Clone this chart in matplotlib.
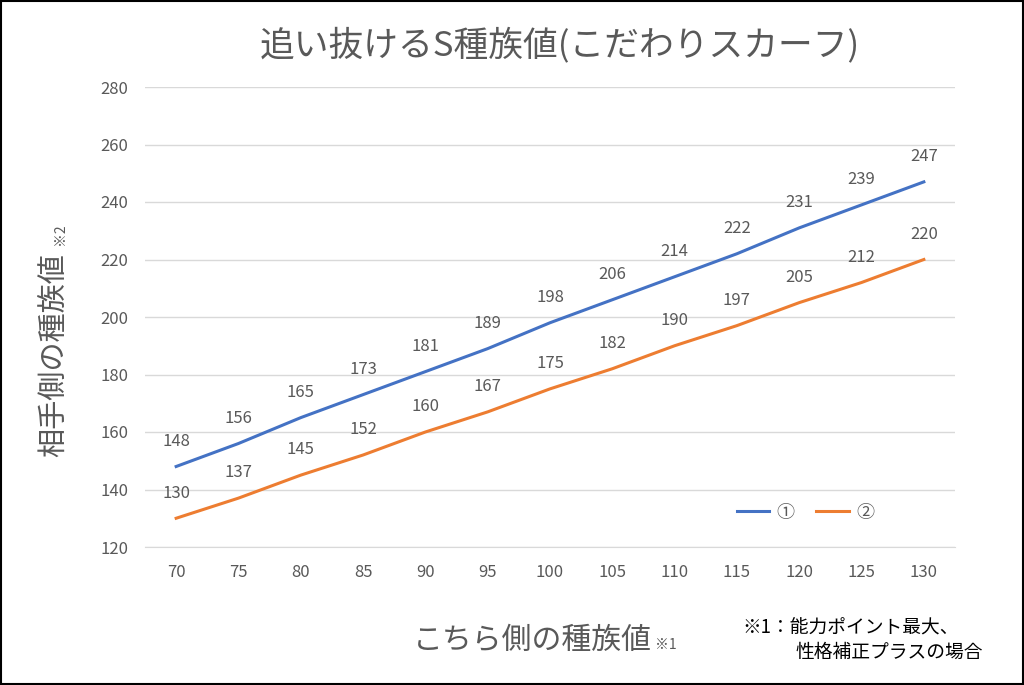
import matplotlib.pyplot as plt
from matplotlib.patches import Rectangle

plt.rcParams['font.family'] = ['Noto Sans CJK JP', 'DejaVu Sans']

# data
ours = [70, 75, 80, 85, 90, 95, 100, 105, 110, 115, 120, 125, 130]
s1 = [148, 156, 165, 173, 181, 189, 198, 206, 214, 222, 231, 239, 247]
s2 = [130, 137, 145, 152, 160, 167, 175, 182, 190, 197, 205, 212, 220]

gray = '#595959'
W, H = 1024, 685
fig = plt.figure(figsize=(W / 100, H / 100), dpi=100)
ax = fig.add_axes([145 / W, 1 - 547 / H, 810 / W, 460 / H])

x = list(range(len(ours)))
ax.plot(x, s1, color='#4472C4', lw=2.2, label='①')
ax.plot(x, s2, color='#ED7D31', lw=2.2, label='②')
for xi, a, b in zip(x, s1, s2):
    ax.annotate(str(a), (xi, a), xytext=(0, 12), textcoords='offset points',
                ha='center', va='bottom', fontsize=12, color=gray)
    ax.annotate(str(b), (xi, b), xytext=(0, 12), textcoords='offset points',
                ha='center', va='bottom', fontsize=12, color=gray)

ax.set_xlim(-0.5, len(ours) - 0.5)
ax.set_ylim(120, 280)
ax.set_yticks(range(120, 281, 20))
ax.set_xticks(x, [str(v) for v in ours])
ax.grid(axis='y', color='#D9D9D9', lw=1)
ax.set_axisbelow(True)
for s in ax.spines.values():
    s.set_visible(False)
ax.spines['bottom'].set_visible(True)
ax.spines['bottom'].set_color('#D9D9D9')
ax.tick_params(length=0, labelsize=12, colors=gray, pad=12)

ax.legend(loc='lower right', bbox_to_anchor=(0.92, 0.02), ncol=2, frameon=False,
          fontsize=13, labelcolor=gray, handlelength=1.8, columnspacing=1.2,
          handletextpad=0.4)

fig.text(560 / W, 1 - 45 / H, '追い抜けるS種族値(こだわりスカーフ)', ha='center', va='center',
         fontsize=25, color=gray)
fig.text(55 / W, 1 - 355 / H, '相手側の種族値', rotation=90, ha='center', va='center',
         fontsize=21, color=gray)
fig.text(60 / W, 1 - 234 / H, '※2', rotation=90, ha='center', va='center',
         fontsize=10, color=gray)
fig.text(532 / W, 1 - 640 / H, 'こちら側の種族値', ha='center', va='center',
         fontsize=21.5, color=gray)
fig.text(666 / W, 1 - 645 / H, '※1', ha='center', va='center', fontsize=10, color=gray)
fig.text(742 / W, 1 - 628 / H, '※1：能力ポイント最大、', ha='left', va='center',
         fontsize=13.5, color='black')
fig.text(795 / W, 1 - 652 / H, '性格補正プラスの場合', ha='left', va='center',
         fontsize=13.5, color='black')

fig.patches.append(Rectangle((0.001, 0.001), 0.998, 0.998, transform=fig.transFigure,
                             fill=False, edgecolor='black', lw=1.5))
fig.savefig('out.png', dpi=100)
